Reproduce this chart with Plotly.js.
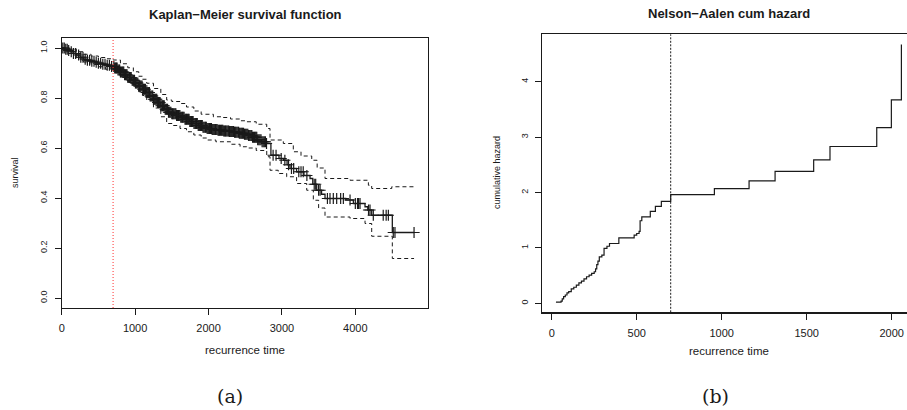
<!DOCTYPE html>
<html>
<head>
<meta charset="utf-8">
<script src="https://cdn.plot.ly/plotly-3.0.1.min.js"></script>
<style>html,body{margin:0;padding:0;background:#fff;}#chart{width:907px;height:410px;}</style>
</head>
<body>
<div id="chart"></div>
<script>
// ---------- Kaplan-Meier estimate (step function) ----------
const kmTime = [0, 40, 80, 120, 160, 200, 250, 300, 350, 400, 450, 500, 560, 620, 680, 720, 760, 800, 850, 900, 950, 1000, 1050, 1100, 1150, 1200, 1250, 1300, 1350, 1400, 1450, 1500, 1560, 1620, 1680, 1740, 1800, 1860, 1920, 1980, 2050, 2120, 2200, 2280, 2350, 2420, 2480, 2540, 2600, 2660, 2720, 2790, 2850, 2960, 3020, 3070, 3110, 3200, 3300, 3383, 3420, 3474, 3540, 3587, 3870, 3973, 4132, 4170, 4223, 4504, 4800];
const kmSurv = [1.0, 0.995, 0.99, 0.985, 0.978, 0.972, 0.963, 0.955, 0.951, 0.947, 0.943, 0.939, 0.935, 0.931, 0.926, 0.92, 0.912, 0.904, 0.893, 0.882, 0.871, 0.86, 0.848, 0.835, 0.822, 0.808, 0.795, 0.782, 0.769, 0.755, 0.743, 0.737, 0.73, 0.723, 0.715, 0.706, 0.698, 0.69, 0.683, 0.678, 0.674, 0.671, 0.668, 0.666, 0.663, 0.659, 0.655, 0.65, 0.643, 0.633, 0.625, 0.618, 0.571, 0.558, 0.551, 0.533, 0.518, 0.505, 0.49, 0.478, 0.455, 0.431, 0.415, 0.398, 0.392, 0.378, 0.365, 0.352, 0.331, 0.262, 0.262];

// ---------- confidence bands ----------
const ciUpperTime = [0, 100, 200, 300, 400, 500, 600, 700, 800, 900, 976, 1050, 1100, 1158, 1250, 1350, 1430, 1500, 1612, 1700, 1800, 1900, 2066, 2200, 2300, 2430, 2520, 2650, 2793, 2838, 3019, 3155, 3260, 3406, 3480, 3587, 3928, 4178, 4223, 4496, 4800];
const ciUpper = [1.0, 0.995, 0.985, 0.975, 0.968, 0.962, 0.957, 0.952, 0.937, 0.921, 0.905, 0.887, 0.875, 0.859, 0.838, 0.814, 0.792, 0.786, 0.778, 0.764, 0.748, 0.735, 0.725, 0.722, 0.716, 0.709, 0.705, 0.695, 0.678, 0.632, 0.618, 0.585, 0.568, 0.551, 0.52, 0.478, 0.471, 0.451, 0.438, 0.445, 0.445];
const ciLowerTime = [0, 100, 204, 300, 400, 500, 600, 703, 800, 900, 976, 1050, 1100, 1158, 1250, 1350, 1430, 1520, 1612, 1700, 1800, 1900, 1975, 2100, 2300, 2430, 2520, 2650, 2793, 2838, 2950, 3065, 3200, 3338, 3428, 3500, 3587, 3928, 4132, 4223, 4504, 4800];
const ciLower = [1.0, 0.985, 0.959, 0.944, 0.934, 0.925, 0.915, 0.905, 0.885, 0.865, 0.845, 0.825, 0.81, 0.792, 0.76, 0.725, 0.698, 0.69, 0.678, 0.665, 0.652, 0.64, 0.632, 0.625, 0.615, 0.605, 0.6, 0.59, 0.565, 0.511, 0.498, 0.485, 0.458, 0.431, 0.391, 0.36, 0.324, 0.318, 0.298, 0.247, 0.158, 0.158];

// ---------- censoring times ----------
const censorTime = [15, 35, 55, 75, 95, 130, 160, 190, 230, 260, 290, 320, 350, 380, 410, 440, 470, 500, 530, 560, 590, 620, 650, 680,
  710, 735, 755, 780, 800, 825, 845, 870, 890, 915, 935, 960, 980, 1005, 1025, 1050, 1070, 1095, 1115, 1140, 1160, 1185, 1205, 1230, 1250, 1275, 1295, 1320, 1340, 1365, 1385, 1410, 1430, 1455, 1475, 1500, 1520, 1545, 1565, 1590, 1610, 1635, 1655, 1680, 1700, 1725, 1745, 1770, 1790, 1815, 1835, 1860, 1880, 1905, 1925, 1950, 1970, 1995, 2015, 2040, 2060, 2085, 2105, 2130, 2150, 2175, 2195, 2220, 2240, 2265, 2285, 2310, 2330, 2355, 2375, 2400, 2420, 2445, 2465, 2490, 2510, 2535, 2555, 2580, 2600, 2625, 2645, 2670, 2700, 2730, 2760, 2790,
  722, 745, 767, 790, 812, 835, 857, 880, 902, 925, 947, 970, 992, 1015, 1037, 1060, 1082, 1105, 1127, 1150, 1172, 1195, 1217, 1240, 1262, 1285, 1307, 1330, 1352, 1375, 1397, 1420, 1442, 1465, 1487, 1510, 1532, 1555, 1577, 1600, 1622, 1645, 1667, 1690, 1712, 1735, 1757, 1780, 1802, 1825, 1847, 1870, 1892, 1915, 1937, 1960, 1982, 2005, 2027, 2050, 2072, 2095, 2117, 2140, 2162, 2185, 2207, 2230, 2252, 2275, 2297, 2320, 2342, 2365, 2387, 2410, 2432, 2455, 2477, 2500, 2522, 2545, 2567, 2590, 2612, 2635, 2657, 2685, 2715, 2745, 2775,
  2880, 2920, 2990, 3040, 3090, 3130, 3160, 3230, 3260, 3290, 3340, 3440, 3460, 3500, 3520, 3620, 3655, 3700, 3746, 3800, 3837, 3928, 4000, 4030, 4045, 4064, 4180, 4200, 4245, 4380, 4420, 4450, 4517, 4540, 4800];

// ---------- Nelson-Aalen cumulative hazard ----------
const naTime = [25, 55, 62, 70, 80, 90, 100, 115, 130, 145, 160, 175, 190, 205, 220, 235, 250, 258, 265, 272, 280, 295, 308, 325, 340, 395, 485, 500, 514, 520, 530, 580, 610, 645, 700, 957, 1161, 1314, 1541, 1637, 1912, 1998, 2057];
const naHaz = [0.02, 0.04, 0.08, 0.12, 0.15, 0.19, 0.21, 0.26, 0.29, 0.33, 0.37, 0.40, 0.44, 0.48, 0.51, 0.54, 0.57, 0.62, 0.70, 0.76, 0.84, 0.87, 0.99, 1.03, 1.08, 1.18, 1.23, 1.26, 1.30, 1.49, 1.56, 1.66, 1.75, 1.84, 1.96, 2.07, 2.21, 2.38, 2.59, 2.83, 3.17, 3.67, 4.67];

const cutTime = 700;
const xTicksA = [0, 1000, 2000, 3000, 4000];
const yTicksA = [0, 0.2, 0.4, 0.6, 0.8, 1.0];
const yTickTextA = ['0.0', '0.2', '0.4', '0.6', '0.8', '1.0'];
const xTicksB = [0, 500, 1000, 1500, 2000];
const yTicksB = [0, 1, 2, 3, 4];

function kmAt(t) {
  let v = kmSurv[0];
  for (let i = 0; i < kmTime.length; i++) { if (kmTime[i] <= t) v = kmSurv[i]; else break; }
  return v;
}
const censorSurv = censorTime.map(kmAt);

const W = 907, H = 410;
const px = v => v / W, py = v => 1 - v / H;
const sans = 'Liberation Sans, Arial, Helvetica, sans-serif';
const ink = '#1a1a1a';

const traces = [
  {x: ciUpperTime, y: ciUpper, xaxis: 'x', yaxis: 'y', mode: 'lines', line: {shape: 'hv', color: ink, width: 1, dash: '4px,3px'}, hoverinfo: 'skip'},
  {x: ciLowerTime, y: ciLower, xaxis: 'x', yaxis: 'y', mode: 'lines', line: {shape: 'hv', color: ink, width: 1, dash: '4px,3px'}, hoverinfo: 'skip'},
  {x: kmTime, y: kmSurv, xaxis: 'x', yaxis: 'y', mode: 'lines', line: {shape: 'hv', color: ink, width: 1.3}},
  {x: censorTime, y: censorSurv, xaxis: 'x', yaxis: 'y', mode: 'markers', marker: {symbol: 'cross-thin-open', size: 8, color: ink, line: {width: 1.2, color: ink}}},
  {x: naTime, y: naHaz, xaxis: 'x2', yaxis: 'y2', mode: 'lines', line: {shape: 'hv', color: ink, width: 1.2}}
];

const axBase = {
  showgrid: false, zeroline: false, showline: true, linecolor: ink, linewidth: 1.2,
  ticks: 'outside', ticklen: 6, tickwidth: 1, tickcolor: ink
};

const layout = {
  width: W, height: H,
  margin: {l: 0, r: 0, t: 0, b: 0},
  paper_bgcolor: '#fff', plot_bgcolor: '#fff',
  showlegend: false,
  xaxis: Object.assign({}, axBase, {domain: [px(61.7), px(428)], range: [0, 4990], tickvals: xTicksA, mirror: true, anchor: 'y',
    tickfont: {family: sans, size: 11, color: ink}, ticklabelstandoff: 4}),
  yaxis: Object.assign({}, axBase, {domain: [1 - 308 / H, 1 - 38 / H], range: [-0.04, 1.04], tickvals: yTicksA, ticktext: yTickTextA, tickangle: -90, mirror: true, anchor: 'x',
    tickfont: {family: sans, size: 9, color: ink}, ticklabelstandoff: 4}),
  xaxis2: Object.assign({}, axBase, {domain: [px(542.3), 1], range: [-55.3, 2090], tickvals: xTicksB, mirror: true, anchor: 'y2',
    tickfont: {family: sans, size: 11, color: ink}, ticklabelstandoff: 4}),
  yaxis2: Object.assign({}, axBase, {domain: [1 - 312.3 / H, 1 - 34.3 / H], range: [-0.162, 4.855], tickvals: yTicksB, tickangle: -90, mirror: false, anchor: 'x2',
    tickfont: {family: sans, size: 9, color: ink}, ticklabelstandoff: 4}),
  shapes: [
    {type: 'line', xref: 'x', yref: 'y domain', x0: cutTime, x1: cutTime, y0: 0, y1: 1, line: {color: '#ff3030', width: 1, dash: '1px,2px'}},
    {type: 'line', xref: 'x2', yref: 'y2 domain', x0: cutTime, x1: cutTime, y0: 0, y1: 1, line: {color: ink, width: 1, dash: '2px,1.5px'}}
  ],
  annotations: [
    {text: '<b>Kaplan\u2212Meier survival function</b>', x: px(245), y: py(14), xref: 'paper', yref: 'paper', showarrow: false, xanchor: 'center', yanchor: 'middle', font: {family: sans, size: 13, color: ink}},
    {text: '<b>Nelson\u2212Aalen cum hazard</b>', x: px(728.5), y: py(13), xref: 'paper', yref: 'paper', showarrow: false, xanchor: 'center', yanchor: 'middle', font: {family: sans, size: 13, color: ink}},
    {text: 'recurrence time', x: px(245), y: py(350), xref: 'paper', yref: 'paper', showarrow: false, xanchor: 'center', yanchor: 'middle', font: {family: sans, size: 11.5, color: ink}},
    {text: 'recurrence time', x: px(728.8), y: py(351), xref: 'paper', yref: 'paper', showarrow: false, xanchor: 'center', yanchor: 'middle', font: {family: sans, size: 11.5, color: ink}},
    {text: 'survival', x: px(15), y: py(173), xref: 'paper', yref: 'paper', showarrow: false, xanchor: 'center', yanchor: 'middle', textangle: -90, font: {family: sans, size: 9, color: ink}},
    {text: 'cumulative hazard', x: px(497), y: py(173), xref: 'paper', yref: 'paper', showarrow: false, xanchor: 'center', yanchor: 'middle', textangle: -90, font: {family: sans, size: 9, color: ink}},
    {text: '(a)', x: px(230), y: py(396), xref: 'paper', yref: 'paper', showarrow: false, xanchor: 'center', yanchor: 'middle', font: {family: 'DejaVu Serif, Liberation Serif, serif', size: 19, color: ink}},
    {text: '(b)', x: px(715), y: py(396), xref: 'paper', yref: 'paper', showarrow: false, xanchor: 'center', yanchor: 'middle', font: {family: 'DejaVu Serif, Liberation Serif, serif', size: 19, color: ink}}
  ]
};

Plotly.newPlot('chart', traces, layout, {staticPlot: true, displayModeBar: false});
</script>
</body>
</html>
